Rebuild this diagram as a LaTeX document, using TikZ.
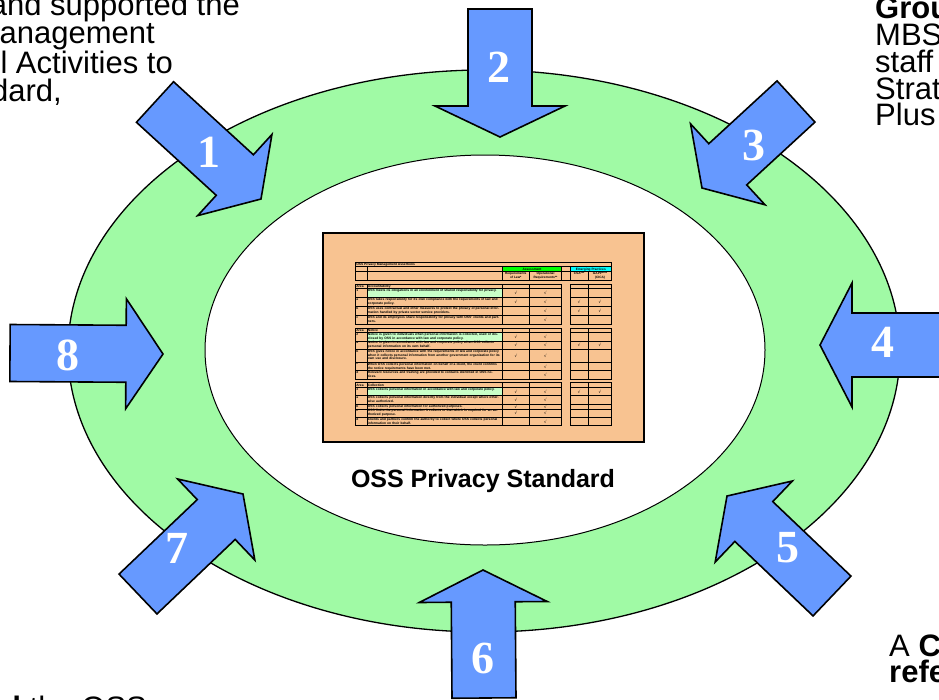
\documentclass[tikz,border=0pt]{standalone}
\usepackage{fontspec}
\setmainfont{Liberation Sans}
\newfontfamily\numfont{Liberation Serif}
\newfontfamily\symfont{DejaVu Sans}
\usetikzlibrary{calc,shapes.geometric}

\definecolor{ringgreen}{RGB}{160,250,165}
\definecolor{arrowblue}{RGB}{102,153,255}
\definecolor{peach}{RGB}{248,195,145}
\definecolor{rowgreen}{RGB}{200,255,200}
\definecolor{hdrgreen}{RGB}{0,255,0}
\definecolor{hdrcyan}{RGB}{0,255,255}

\tikzset{
  arrowbody/.style={fill=arrowblue, draw=black, line width=1.6pt, line join=miter},
  numlabel/.style={font=\numfont\bfseries\fontsize{46}{46}\selectfont, text=white, inner sep=0pt},
  sidetext/.style={font=\fontsize{31}{31}\selectfont, inner sep=0pt},
  tabline/.style={draw=black, line width=0.6pt},
  tabtext/.style={font=\bfseries\fontsize{3.3}{3.8}\selectfont, inner sep=0.4pt, align=left},
  tabhead/.style={font=\bfseries\fontsize{3.2}{3.5}\selectfont, inner sep=0.2pt, align=center},
  chk/.style={font=\symfont\fontsize{4}{4}\selectfont, inner sep=0pt},
}

% column edges of the assertion table
\def\tabxA{355.7}\def\tabxB{367.3}\def\tabxC{502.3}\def\tabxD{529.3}
\def\tabxE{561.7}\def\tabxF{570}\def\tabxG{588.3}\def\tabxH{611.7}

% one ruled row of the table
\newcommand{\gridrow}[2]{%
  \draw[tabline] (\tabxA,#1) rectangle (\tabxB,#2)
                 (\tabxB,#1) rectangle (\tabxC,#2)
                 (\tabxC,#1) rectangle (\tabxD,#2)
                 (\tabxD,#1) rectangle (\tabxE,#2)
                 (\tabxF,#1) rectangle (\tabxG,#2)
                 (\tabxG,#1) rectangle (\tabxH,#2);}

% name, top, bottom, id, text, four tick flags
\newcommand{\assertrow}[9]{%
  \gridrow{#2}{#3}%
  \node[tabtext, anchor=north west] (#1-id) at (\tabxA,#2) {#4};%
  \node[tabtext, anchor=north west, text width=132pt] (#1-tx) at (\tabxB,#2) {#5};%
  \ifnum#6=1 \node[chk] (#1-c1) at ({(\tabxC+\tabxD)/2},{(#2+#3)/2}) {√};\fi
  \ifnum#7=1 \node[chk] (#1-c2) at ({(\tabxD+\tabxE)/2},{(#2+#3)/2}) {√};\fi
  \ifnum#8=1 \node[chk] (#1-c3) at ({(\tabxF+\tabxG)/2},{(#2+#3)/2}) {√};\fi
  \ifnum#9=1 \node[chk] (#1-c4) at ({(\tabxG+\tabxH)/2},{(#2+#3)/2}) {√};\fi}

\newcommand{\arearow}[4]{%
  \gridrow{#2}{#3}%
  \node[tabtext, anchor=west] (#1-a) at (\tabxA,{(#2+#3)/2}) {Area};%
  \node[tabtext, anchor=west] (#1-b) at (\tabxB,{(#2+#3)/2}) {#4};}

% block arrow: tip, tail centre, shaft half-width, head half-width, head length
\newcommand{\blockarrow}[5]{%
  \coordinate (hb) at ($(#1)!#5!(#2)$);
  \draw[arrowbody] (#1)
    -- ($(hb)!#4!90:(#1)$) -- ($(hb)!#3!90:(#1)$)
    -- ($(#2)!#3!90:(#1)$) -- ($(#2)!#3!-90:(#1)$)
    -- ($(hb)!#3!-90:(#1)$) -- ($(hb)!#4!-90:(#1)$) -- cycle;}

\begin{document}
\begin{tikzpicture}[x=1pt, y=-1pt]
\useasboundingbox (0,0) rectangle (939,699);
\clip (0,0) rectangle (939,699);
\fill[white] (0,0) rectangle (939,699);

% ring
\node[ellipse, draw=black, line width=1.3pt, fill=ringgreen, inner sep=0pt,
      minimum width=832pt, minimum height=562pt] (ring) at (484,351) {};
\node[ellipse, draw=black, line width=1pt, fill=white, inner sep=0pt,
      minimum width=560pt, minimum height=390pt] (hole) at (485,350) {};

% standard document
\node[draw=black, line width=2pt, fill=peach, inner sep=0pt,
      minimum width=321pt, minimum height=209pt] (panel) at (483.5,337.5) {};

% table header
\draw[tabline] (\tabxA,262.3) rectangle (\tabxH,266.7);
\node[tabtext, anchor=west] (ttl) at (\tabxA,264.5) {OSS Privacy Management Assertions};
\fill[hdrgreen] (\tabxC,266.7) rectangle (\tabxE,271.7);
\fill[hdrcyan] (\tabxF,266.7) rectangle (\tabxH,271.7);
\draw[tabline] (\tabxA,266.7) rectangle (\tabxB,271.7) (\tabxB,266.7) rectangle (\tabxC,271.7)
  (\tabxC,266.7) rectangle (\tabxE,271.7) (\tabxE,266.7) rectangle (\tabxF,271.7)
  (\tabxF,266.7) rectangle (\tabxH,271.7);
\node[tabhead] (hassess) at ({(\tabxC+\tabxE)/2},269.2) {Assessment};
\node[tabhead] (hemerg) at ({(\tabxF+\tabxH)/2},269.2) {Emerging Practices};
\draw[tabline] (\tabxA,271.7) rectangle (\tabxB,280.7) (\tabxB,271.7) rectangle (\tabxC,280.7)
  (\tabxC,271.7) rectangle (\tabxD,280.7) (\tabxD,271.7) rectangle (\tabxE,280.7)
  (\tabxE,271.7) rectangle (\tabxF,280.7) (\tabxF,271.7) rectangle (\tabxG,280.7)
  (\tabxG,271.7) rectangle (\tabxH,280.7);
\node[tabhead, anchor=north] (hlaw) at ({(\tabxC+\tabxD)/2},272.2) {Requirements\\of Law*};
\node[tabhead, anchor=north] (hops) at ({(\tabxD+\tabxE)/2},272.2) {Operational\\Requirements**};
\node[tabhead, anchor=north] (hcsa) at ({(\tabxF+\tabxG)/2},272.2) {CSA***};
\node[tabhead, anchor=north] (hgapp) at ({(\tabxG+\tabxH)/2},272.2) {GAPP****\\(CICA)};

% accountability
\arearow{acc}{284.3}{288.3}{Accountability}
\fill[rowgreen] (\tabxB,288.3) rectangle (\tabxC,297.7);
\assertrow{acc1}{288.3}{297.7}{1}{OSS meets its obligations in an environment of shared responsibility for privacy.}{1}{1}{0}{0}
\assertrow{acc2}{297.7}{306.7}{a}{OSS takes responsibility for its own compliance with the requirements of law and corporate policy.}{1}{1}{1}{1}
\assertrow{acc3}{306.7}{315.7}{b}{OSS uses contractual and other measures to protect the privacy of personal information handled by private sector service providers.}{0}{1}{1}{1}
\assertrow{acc4}{315.7}{324.3}{c}{OSS and its employees share responsibility for privacy with OSS' clients and partners.}{0}{1}{0}{0}

% notice
\arearow{not}{328.3}{332.3}{Notice}
\fill[rowgreen] (\tabxB,332.3) rectangle (\tabxC,341);
\assertrow{not1}{332.3}{341}{2}{Notice is given to individuals when personal information is collected, used or disclosed by OSS in accordance with law and corporate policy.}{1}{1}{0}{0}
\assertrow{not2}{341}{349.3}{a}{Notice is given in accordance with law and corporate policy when OSS collects personal information on its own behalf.}{1}{1}{1}{1}
\assertrow{not3}{349.3}{362.3}{b}{OSS gives notice in accordance with the requirements of law and corporate policy when it collects personal information from another government organization for its own use and disclosure.}{1}{1}{0}{0}
\assertrow{not4}{362.3}{370.7}{c}{When OSS collects personal information on behalf of a client, the client confirms the notice requirements have been met.}{0}{1}{0}{0}
\assertrow{not5}{370.7}{379}{d}{Relevant resources and training are provided to contacts identified in OSS notices.}{0}{1}{0}{0}

% collection
\arearow{col}{382.7}{387.3}{Collection}
\fill[rowgreen] (\tabxB,387.3) rectangle (\tabxC,395.7);
\assertrow{col1}{387.3}{395.7}{3}{OSS collects personal information in accordance with law and corporate policy.}{1}{1}{1}{1}
\assertrow{col2}{395.7}{404.3}{a}{OSS collects personal information directly from the individual except where otherwise authorized.}{1}{1}{0}{0}
\assertrow{col3}{404.3}{409}{b}{OSS collects personal information for authorized purposes.}{1}{1}{0}{0}
\assertrow{col4}{409}{417.3}{c}{OSS limits the personal information it collects to that which is required for an authorized purpose.}{1}{1}{0}{0}
\assertrow{col5}{417.3}{425.7}{d}{Clients and partners confirm the authority to collect where OSS collects personal information on their behalf.}{0}{1}{0}{0}

\node[font=\bfseries\fontsize{25}{25}\selectfont, inner sep=0pt] (caption) at (483,481) {OSS Privacy Standard};

% arrow tips and tail centres
\coordinate (t1) at (261,199); \coordinate (s1) at (155,102);
\coordinate (t2) at (500,137); \coordinate (s2) at (500,9);
\coordinate (t3) at (702,188); \coordinate (s3) at (796,101.5);
\coordinate (t4) at (820,345); \coordinate (s4) at (990,345);
\coordinate (t5) at (727,496); \coordinate (s5) at (832,596);
\coordinate (t6) at (483,570); \coordinate (s6) at (484,698);
\coordinate (t7) at (243,494); \coordinate (s7) at (138,594);
\coordinate (t8) at (163,354); \coordinate (s8) at (10,353);

\blockarrow{t1}{s1}{27.5pt}{55pt}{35.5pt}
\blockarrow{t2}{s2}{32pt}{65pt}{31pt}
\blockarrow{t3}{s3}{28pt}{55pt}{35pt}
\blockarrow{t4}{s4}{32pt}{62pt}{32pt}
\blockarrow{t5}{s5}{27.5pt}{56pt}{37pt}
\blockarrow{t6}{s6}{32pt}{64pt}{32pt}
\blockarrow{t7}{s7}{27.5pt}{56pt}{37pt}
\blockarrow{t8}{s8}{28.5pt}{55pt}{37pt}

\node[numlabel] (n1) at (209,152) {1};
\node[numlabel] (n2) at (499,67) {2};
\node[numlabel] (n3) at (754,145) {3};
\node[numlabel] (n4) at (883,342) {4};
\node[numlabel] (n5) at (788,548) {5};
\node[numlabel] (n6) at (483,658) {6};
\node[numlabel] (n7) at (177,548) {7};
\node[numlabel] (n8) at (68,355) {8};

% surrounding notes
\node[sidetext, anchor=base east] (tl1) at (240,15) {and supported the};
\node[sidetext, anchor=base east] (tl2) at (155,43.5) {anagement};
\node[sidetext, anchor=base east] (tl3) at (173,73) {l Activities to};
\node[sidetext, anchor=base east] (tl4) at (62,101) {dard,};

\node[sidetext, anchor=base west] (tr1) at (875,18) {\bfseries Grou};
\node[sidetext, anchor=base west] (tr2) at (875,45) {MBS};
\node[sidetext, anchor=base west] (tr3) at (875,72) {staff};
\node[sidetext, anchor=base west] (tr4) at (875,99) {Strat};
\node[sidetext, anchor=base west] (tr5) at (875,125) {Plus};

\node[sidetext, anchor=base west] (br1) at (889,656) {A \bfseries C};
\node[sidetext, anchor=base west] (br2) at (889,682) {\bfseries refe};

\node[sidetext, anchor=base west] (bl1) at (2,718) {\bfseries d \mdseries the OSS};
\end{tikzpicture}
\end{document}
